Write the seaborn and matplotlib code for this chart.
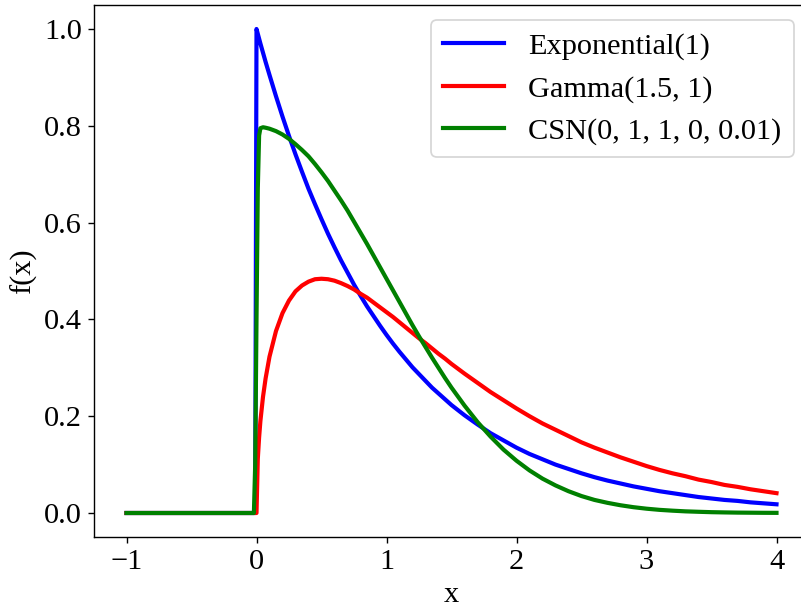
import matplotlib
matplotlib.use("Agg")
import matplotlib.pyplot as plt
import seaborn as sns
import pandas as pd

plt.rcParams['font.family'] = ['Liberation Serif', 'DejaVu Serif']
plt.rcParams['mathtext.fontset'] = 'stix'
plt.rcParams['font.size'] = 17.5

# values
x_vals = [-1.0, -0.02, -0.01, 0.0, 0.01, 0.02, 0.03, 0.05, 0.07,
          0.1, 0.15, 0.2, 0.25, 0.3, 0.35, 0.4, 0.45, 0.5, 0.55, 0.6, 0.65,
          0.7, 0.75, 0.8, 0.85, 0.9, 0.95, 1.0, 1.05, 1.1, 1.15, 1.2, 1.25,
          1.3, 1.35, 1.4, 1.45, 1.5, 1.6, 1.7, 1.8, 1.9, 2.0,
          2.1, 2.2, 2.3, 2.4, 2.5, 2.6, 2.7, 2.8, 2.9, 3.0,
          3.1, 3.2, 3.3, 3.4, 3.5, 3.6, 3.7, 3.8, 3.9, 4.0]

exp_vals = [0.0, 0.0, 0.0, 1.0, 0.990, 0.980, 0.970, 0.951, 0.932,
            0.905, 0.861, 0.819, 0.779, 0.741, 0.705, 0.670, 0.638, 0.607, 0.577, 0.549, 0.522,
            0.497, 0.472, 0.449, 0.427, 0.407, 0.387, 0.368, 0.350, 0.333, 0.317, 0.301, 0.287,
            0.273, 0.259, 0.247, 0.235, 0.223, 0.202, 0.183, 0.165, 0.150, 0.135,
            0.122, 0.111, 0.100, 0.091, 0.082, 0.074, 0.067, 0.061, 0.055, 0.050,
            0.045, 0.041, 0.037, 0.033, 0.030, 0.027, 0.025, 0.022, 0.020, 0.018]

gamma_vals = [0.0, 0.0, 0.0, 0.0, 0.112, 0.156, 0.190, 0.240, 0.278,
              0.323, 0.376, 0.413, 0.439, 0.458, 0.470, 0.478, 0.483, 0.484, 0.483, 0.480, 0.475,
              0.469, 0.462, 0.453, 0.445, 0.435, 0.425, 0.415, 0.405, 0.394, 0.383, 0.372, 0.361,
              0.351, 0.340, 0.329, 0.319, 0.308, 0.288, 0.269, 0.250, 0.233, 0.216,
              0.200, 0.185, 0.172, 0.159, 0.146, 0.135, 0.125, 0.115, 0.106, 0.097,
              0.089, 0.082, 0.076, 0.069, 0.064, 0.058, 0.054, 0.049, 0.045, 0.041]

csn_vals = [0.0, 0.0, 0.10, 0.40, 0.67, 0.78, 0.795, 0.797, 0.796,
            0.794, 0.789, 0.782, 0.773, 0.762, 0.750, 0.737, 0.721, 0.704, 0.686, 0.666, 0.646,
            0.625, 0.602, 0.579, 0.556, 0.532, 0.508, 0.484, 0.460, 0.436, 0.412, 0.388, 0.365,
            0.343, 0.321, 0.300, 0.279, 0.259, 0.222, 0.188, 0.158, 0.131, 0.108,
            0.088, 0.071, 0.057, 0.045, 0.035, 0.027, 0.021, 0.016, 0.012, 0.0089,
            0.0065, 0.0048, 0.0034, 0.0025, 0.0017, 0.0012, 0.0008, 0.0006, 0.0004, 0.0003]

labels = ['Exponential(1)', 'Gamma(1.5, 1)', 'CSN(0, 1, 1, 0, 0.01)']
colors = ['blue', 'red', 'green']

fig = plt.figure(figsize=(801 / 125, 609 / 125), dpi=125)
ax = fig.add_axes([94 / 801, 71.8 / 609, 715 / 801, 532.4 / 609])

for vals, lab, col in zip([exp_vals, gamma_vals, csn_vals], labels, colors):
    df = pd.DataFrame({'x': x_vals, 'y': vals})
    sns.lineplot(data=df, x='x', y='y', ax=ax, color=col, linewidth=2.4,
                 label=lab, estimator=None, sort=False)

ax.set_xlim(-1.25, 4.25)
ax.set_ylim(-0.05, 1.05)
ax.set_xticks([-1, 0, 1, 2, 3, 4])
ax.set_yticks([0.0, 0.2, 0.4, 0.6, 0.8, 1.0])
ax.set_yticklabels(['0.0', '0.2', '0.4', '0.6', '0.8', '1.0'])
ax.set_xlabel('x')
ax.set_ylabel('f(x)')
ax.legend(loc='upper right', fontsize=17.5)

fig.savefig('out.png', dpi=125)
